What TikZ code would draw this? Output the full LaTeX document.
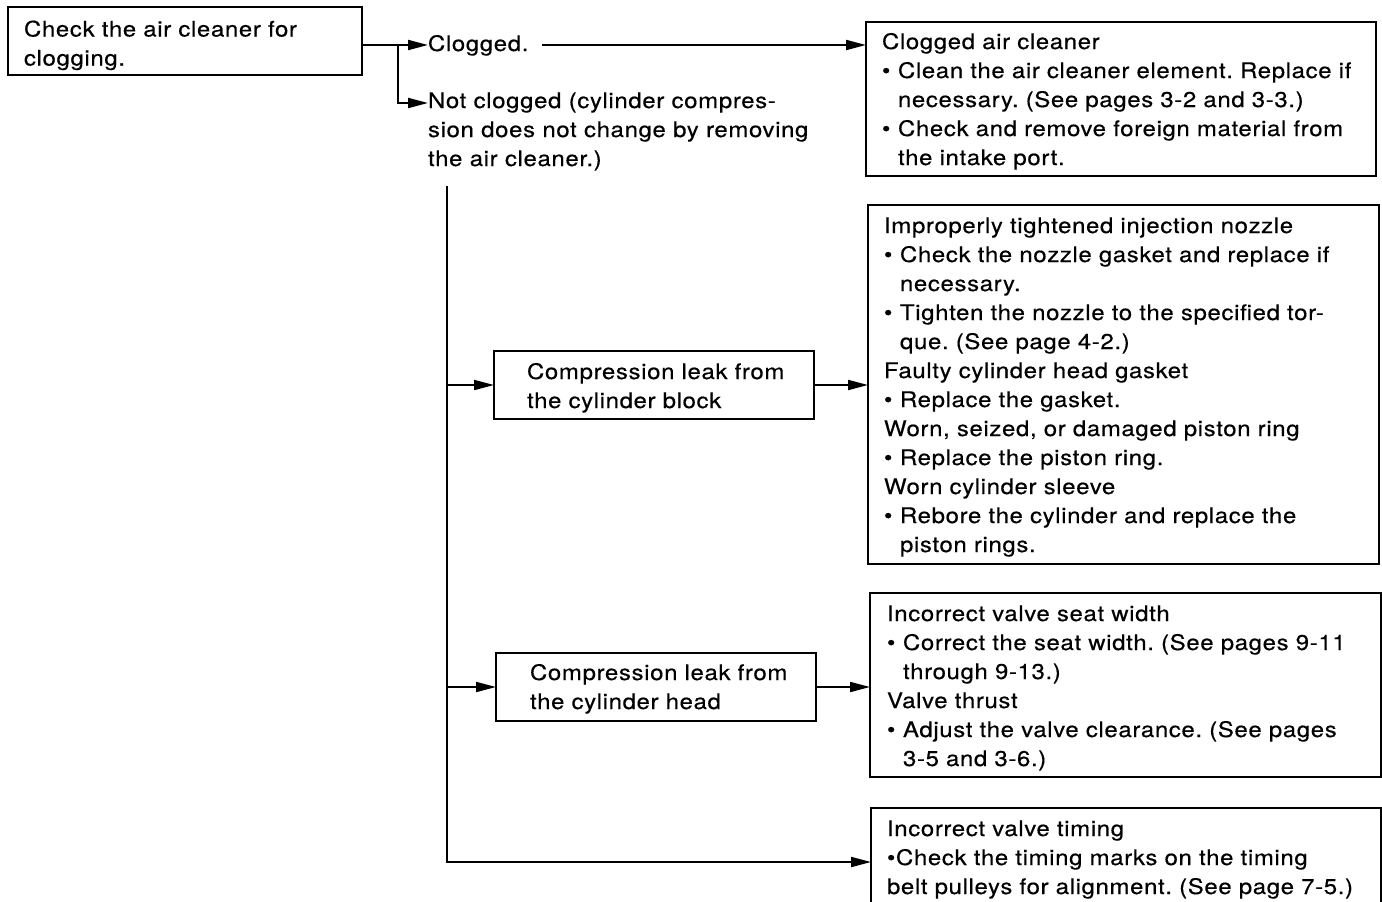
\documentclass[tikz,border=0pt]{standalone}
\usepackage{fontspec}
\setmainfont{TeX Gyre Heros}[FakeStretch=1.12,LetterSpace=3,FakeBold=0.4]
\usetikzlibrary{arrows.meta}
\frenchspacing
\newcommand\boxlines[1]{\begin{tabular}[t]{@{}l@{}}#1\end{tabular}}
\newcommand\bul{\makebox[8pt][l]{\textbullet}}
\newcommand\hng{\hspace*{8pt}}
\tikzset{
  txt/.style={font=\fontsize{10.7}{14.5}\selectfont},
  bx/.style={txt, draw, line width=0.6pt, anchor=north west, inner ysep=0pt, outer sep=0pt},
  lbl/.style={txt, inner sep=0pt, outer sep=0pt, anchor=base west},
  arr/.style={line width=1pt, -{Triangle[length=10pt,width=5pt]}}
}
\begin{document}
\begin{tikzpicture}[x=0.5pt,y=-0.5pt]
\useasboundingbox (0,0) rectangle (1382,901);
\node[bx, inner xsep=8pt, text width=161pt, text height=14.75pt, text depth=19.25pt] (b1) at (8,7)
  {\boxlines{Check the air cleaner for\\clogging.}};
\node[lbl] (clog) at (428,51) {Clogged.};
\node[lbl] (nclog) at (428,108)
  {\boxlines{Not clogged (cylinder compres-\\sion does not change by removing\\the air cleaner.)}};
\node[bx, inner xsep=8pt, text width=239pt, text height=13.5pt, text depth=63.5pt] (b2) at (866,22)
  {\boxlines{Clogged air cleaner\\
  \bul Clean the air cleaner element. Replace if\\
  \hng necessary. (See pages 3-2 and 3-3.)\\
  \bul Check and remove foreign material from\\
  \hng the intake port.}};
\node[bx, inner xsep=16.5pt, text width=127pt, text height=14pt, text depth=20pt] (b3) at (494,351)
  {\boxlines{Compression leak from\\the cylinder block}};
\node[bx, inner xsep=8pt, text width=239.5pt, text height=14pt, text depth=165.5pt] (b4) at (868,205)
  {\boxlines{Improperly tightened injection nozzle\\
  \bul Check the nozzle gasket and replace if\\
  \hng necessary.\\
  \bul Tighten the nozzle to the specified tor-\\
  \hng que. (See page 4-2.)\\
  Faulty cylinder head gasket\\
  \bul Replace the gasket.\\
  Worn, seized, or damaged piston ring\\
  \bul Replace the piston ring.\\
  Worn cylinder sleeve\\
  \bul Rebore the cylinder and replace the\\
  \hng piston rings.}};
\node[bx, inner xsep=17pt, text width=126pt, text height=13.5pt, text depth=20.5pt] (b5) at (496,653)
  {\boxlines{Compression leak from\\the cylinder head}};
\node[bx, inner xsep=8.5pt, text width=238.5pt, text height=14pt, text depth=78pt] (b6) at (870,593)
  {\boxlines{Incorrect valve seat width\\
  \bul Correct the seat width. (See pages 9-11\\
  \hng through 9-13.)\\
  Valve thrust\\
  \bul Adjust the valve clearance. (See pages\\
  \hng 3-5 and 3-6.)}};
\node[bx, inner xsep=8pt, text width=239pt, text height=14pt, text depth=40pt] (b7) at (871,808)
  {\boxlines{Incorrect valve timing\\
  \textbullet Check the timing marks on the timing\\
  belt pulleys for alignment. (See page 7-5.)}};
% connectors
\coordinate (c1) at ([yshift=3pt]clog.base west);
\path (c1) ++(-30,0) coordinate (br);
\coordinate (v0) at (447,186);
\draw[arr] (b1.east |- c1) -- (c1);
\draw[arr] (br) |- ([yshift=2.5pt]nclog.base west);
\draw[arr] ([xshift=7pt,yshift=3pt]clog.base east) -- (b2.west |- c1);
\draw[arr] (v0) |- (b7.west);
\draw[arr] (v0 |- b3.west) -- (b3.west);
\draw[arr] (v0 |- b5.west) -- (b5.west);
\draw[arr] (b3.east) -- (b4.west |- b3.east);
\draw[arr] (b5.east) -- (b6.west |- b5.east);
\end{tikzpicture}
\end{document}
